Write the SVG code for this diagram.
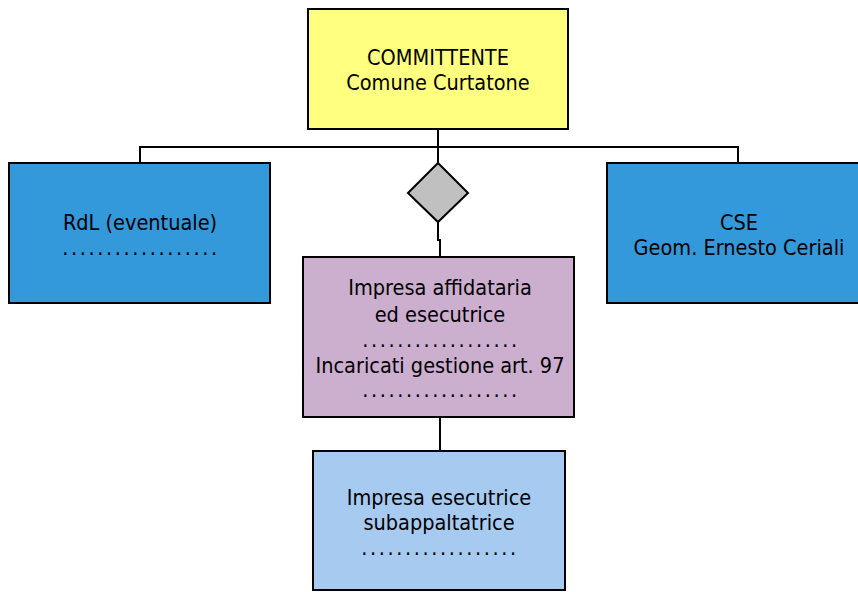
<svg xmlns="http://www.w3.org/2000/svg" width="858" height="592" viewBox="0 0 858 592">
<style>
.box{stroke:#000;stroke-width:2}
.t{font-family:"DejaVu Sans Condensed","DejaVu Sans",Verdana,sans-serif;font-stretch:condensed;font-size:21.5px;fill:#000;text-anchor:middle}
.d{letter-spacing:2.6px}
.c{fill:none;stroke:#000;stroke-width:2}
</style>
<rect width="858" height="592" fill="#fff"/>
<g id="connectors">
<path class="c" d="M438 129V163"/>
<path class="c" d="M140 163V147H738V163"/>
<path class="c" d="M438 222V240H440V257"/>
<path class="c" d="M440 417V451"/>
</g>
<g id="committente">
<rect class="box" x="308" y="9" width="260" height="120" fill="#FFFF80"/>
<text class="t" x="438" y="65">COMMITTENTE</text>
<text class="t" x="438" y="90">Comune Curtatone</text>
</g>
<g id="rdl">
<rect class="box" x="9" y="163" width="261" height="140" fill="#3399DB"/>
<text class="t" x="140" y="230">RdL (eventuale)</text>
<text class="t d" x="141" y="255">..................</text>
</g>
<g id="cse">
<rect class="box" x="607" y="163" width="260" height="140" fill="#3399DB"/>
<text class="t" x="739" y="230">CSE</text>
<text class="t" x="739" y="255">Geom. Ernesto Ceriali</text>
</g>
<g id="diamond">
<polygon points="438,163 468,193 438,222 408,193" fill="#C0C0C0" stroke="#000" stroke-width="2"/>
</g>
<g id="affidataria">
<rect class="box" x="303" y="257" width="271" height="160" fill="#CCAECE"/>
<text class="t" x="440" y="295">Impresa affidataria</text>
<text class="t" x="440" y="322">ed esecutrice</text>
<text class="t d" x="441" y="347">..................</text>
<text class="t" x="440" y="373">Incaricati gestione art. 97</text>
<text class="t d" x="441" y="397">..................</text>
</g>
<g id="subappaltatrice">
<rect class="box" x="313" y="451" width="252" height="139" fill="#A6CAF0"/>
<text class="t" x="439" y="505">Impresa esecutrice</text>
<text class="t" x="439" y="530">subappaltatrice</text>
<text class="t d" x="440" y="555">..................</text>
</g>
</svg>
